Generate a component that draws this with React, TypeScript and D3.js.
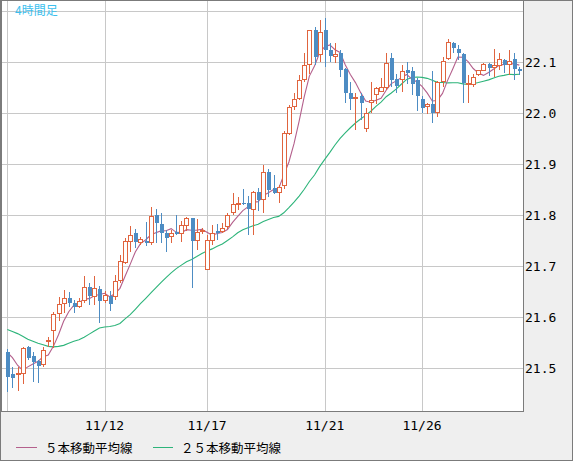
import React, { useEffect } from "react";
import * as d3 from "d3";

// ---- data (4-hour candles) ----
const opens = [
  21.531, 21.488, 21.487, 21.488, 21.542, 21.524, 21.515, 21.506, 21.553, 21.573,
  21.606, 21.626, 21.638, 21.629, 21.620, 21.632, 21.659, 21.640, 21.655, 21.632,
  21.641, 21.640, 21.672, 21.707, 21.748, 21.765, 21.746, 21.750, 21.745, 21.800,
  21.783, 21.766, 21.758, 21.768, 21.764, 21.779, 21.794, 21.750, 21.768, 21.693,
  21.750, 21.770, 21.767, 21.778, 21.804, 21.822, 21.825, 21.824, 21.810, 21.845,
  21.830, 21.884, 21.853, 21.843, 21.857, 21.959, 22.013, 22.029, 22.065, 22.095,
  22.163, 22.114, 22.163, 22.124, 22.110, 22.118, 22.086, 22.039, 22.031, 22.034,
  21.969, 22.021, 22.036, 22.042, 22.049, 22.108, 22.067, 22.065, 22.084, 22.082,
  22.065, 22.029, 22.012, 22.018, 22.001, 22.062, 22.106, 22.137, 22.127, 22.116,
  22.057, 22.056, 22.075, 22.083, 22.097, 22.088, 22.093, 22.104, 22.095, 22.106,
  22.087,
];
const highs = [
  21.538, 21.503, 21.503, 21.542, 21.543, 21.531, 21.516, 21.542, 21.562, 21.611,
  21.639, 21.653, 21.650, 21.634, 21.637, 21.681, 21.667, 21.681, 21.661, 21.651,
  21.651, 21.683, 21.722, 21.756, 21.779, 21.773, 21.758, 21.787, 21.817, 21.812,
  21.804, 21.771, 21.771, 21.801, 21.788, 21.797, 21.795, 21.793, 21.776, 21.762,
  21.781, 21.783, 21.784, 21.804, 21.843, 21.836, 21.852, 21.838, 21.848, 21.853,
  21.899, 21.890, 21.880, 21.859, 21.965, 22.016, 22.039, 22.075, 22.118, 22.163,
  22.169, 22.183, 22.186, 22.137, 22.137, 22.124, 22.088, 22.062, 22.040, 22.039,
  22.010, 22.062, 22.052, 22.069, 22.118, 22.118, 22.078, 22.095, 22.101, 22.091,
  22.069, 22.034, 22.020, 22.082, 22.063, 22.111, 22.146, 22.140, 22.134, 22.118,
  22.075, 22.078, 22.085, 22.098, 22.098, 22.127, 22.118, 22.106, 22.125, 22.118,
  22.091,
];
const lows = [
  21.454, 21.461, 21.456, 21.469, 21.516, 21.474, 21.471, 21.502, 21.541, 21.540,
  21.592, 21.608, 21.621, 21.608, 21.618, 21.629, 21.624, 21.624, 21.589, 21.628,
  21.612, 21.634, 21.667, 21.705, 21.729, 21.735, 21.742, 21.739, 21.742, 21.745,
  21.745, 21.729, 21.745, 21.762, 21.747, 21.769, 21.658, 21.732, 21.763, 21.693,
  21.742, 21.752, 21.765, 21.774, 21.800, 21.810, 21.820, 21.761, 21.761, 21.809,
  21.804, 21.836, 21.841, 21.825, 21.852, 21.957, 22.006, 22.026, 22.062, 22.078,
  22.095, 22.101, 22.091, 22.101, 22.098, 22.072, 22.020, 22.006, 21.967, 21.987,
  21.963, 22.000, 22.019, 22.042, 22.046, 22.052, 22.039, 22.042, 22.057, 22.036,
  22.004, 22.001, 21.999, 21.980, 21.992, 22.052, 22.104, 22.118, 22.104, 22.020,
  22.020, 22.052, 22.073, 22.082, 22.073, 22.072, 22.085, 22.080, 22.075, 22.065,
  22.075,
];
const closes = [
  21.483, 21.480, 21.490, 21.540, 21.521, 21.512, 21.505, 21.535, 21.556, 21.607,
  21.626, 21.637, 21.629, 21.620, 21.632, 21.660, 21.642, 21.657, 21.632, 21.644,
  21.626, 21.672, 21.710, 21.750, 21.761, 21.748, 21.753, 21.746, 21.799, 21.784,
  21.765, 21.755, 21.766, 21.763, 21.781, 21.794, 21.750, 21.767, 21.771, 21.752,
  21.766, 21.766, 21.776, 21.801, 21.822, 21.825, 21.822, 21.812, 21.845, 21.830,
  21.884, 21.850, 21.843, 21.856, 21.961, 22.013, 22.029, 22.065, 22.095, 22.163,
  22.111, 22.160, 22.124, 22.112, 22.116, 22.085, 22.039, 22.029, 22.032, 22.020,
  22.000, 22.027, 22.049, 22.051, 22.099, 22.065, 22.054, 22.082, 22.080, 22.057,
  22.034, 22.011, 22.018, 22.001, 22.062, 22.103, 22.139, 22.129, 22.118, 22.060,
  22.060, 22.072, 22.084, 22.096, 22.088, 22.095, 22.106, 22.095, 22.103, 22.086,
  22.082,
];
// moving-average values at the left edge (their history lies before the window)
const ma5Head = [21.531, 21.521, 21.506, 21.496];
const ma25Head = [
  21.576, 21.572, 21.568, 21.563, 21.557, 21.553, 21.549, 21.546, 21.543, 21.542,
  21.543, 21.545, 21.549, 21.553, 21.556, 21.561, 21.567, 21.573, 21.579, 21.581,
  21.582, 21.584, 21.588, 21.597,
];
const dateTickIndex = [0, 19, 39, 62, 81];
const dateTickLabels = ["", "11/12", "11/17", "11/21", "11/26"];
const priceTicks = [21.5, 21.6, 21.7, 21.8, 21.9, 22.0, 22.1, 22.2];
const priceTickLabels = ["21.5", "21.6", "21.7", "21.8", "21.9", "22.0", "22.1", ""];
const title = "4時間足";
const legendLabels = ["５本移動平均線", "２５本移動平均線"];

const W = 574;
const H = 462;
const UP = "#e0643e";
const DOWN = "#4d8cc3";
const MA5C = "#b4608c";
const MA25C = "#2db47a";
const GRID = "#c8c8c8";
const PANEL = "#efefef";
const BORDER = "#7b7b7b";

function sma(period: number, head: number[]) {
  return closes.map((_, i) =>
    i < period - 1 ? head[i] : (d3.mean(closes.slice(i - period + 1, i + 1)) as number)
  );
}

export default function App() {
  useEffect(() => {
    document.body.style.margin = "0";
  }, []);

  const plotL = 2;
  const plotR = 523;
  const plotT = 1;
  const plotB = 411;

  const x = d3.scaleLinear().domain([0, closes.length - 1]).range([7.3, 519.3]);
  const y = d3.scaleLinear().domain([21.5, 22.2]).range([368.3, 11.3]);

  const ma5 = sma(5, ma5Head);
  const ma25 = sma(25, ma25Head);
  const line = d3
    .line<number>()
    .x((_, i) => x(i))
    .y((d) => y(d));

  const px = (v: number) => Math.round(v);

  return (
    <svg width={W} height={H} style={{ display: "block" }}>
      <rect x={0} y={0} width={573} height={461} fill={PANEL} />
      <rect x={plotL} y={plotT} width={plotR - plotL} height={plotB - plotT} fill="#fff" />
      <defs>
        <clipPath id="plotclip">
          <rect x={plotL} y={plotT} width={plotR - plotL} height={plotB - plotT} />
        </clipPath>
      </defs>
      <g clipPath="url(#plotclip)">
        {priceTicks.map((p) => (
          <line
            key={"h" + p}
            x1={plotL}
            x2={plotR}
            y1={Math.round(y(p)) + 0.5}
            y2={Math.round(y(p)) + 0.5}
            stroke={GRID}
            strokeWidth={1}
          />
        ))}
        {dateTickIndex.map((t) => (
          <line
            key={"v" + t}
            x1={px(x(t)) + 0.5}
            x2={px(x(t)) + 0.5}
            y1={plotT}
            y2={plotB}
            stroke={GRID}
            strokeWidth={1}
          />
        ))}
        <path d={line(ma25) || ""} fill="none" stroke={MA25C} strokeWidth={1.1} />
        <path d={line(ma5) || ""} fill="none" stroke={MA5C} strokeWidth={1.1} />
        {closes.map((c, i) => {
          const o = opens[i];
          const up = c >= o;
          const col = up ? UP : DOWN;
          const cx = px(x(i));
          const yTop = Math.round(y(Math.max(o, c)));
          const yBot = Math.round(y(Math.min(o, c)));
          const hgt = Math.max(1, yBot - yTop);
          return (
            <g key={i}>
              <line
                x1={cx + 0.5}
                x2={cx + 0.5}
                y1={Math.round(y(highs[i]))}
                y2={Math.round(y(lows[i]))}
                stroke={col}
                strokeWidth={1}
              />
              {up ? (
                <rect
                  x={cx - 1.5}
                  y={yTop + 0.5}
                  width={4}
                  height={Math.max(1, hgt - 1)}
                  fill="#fff"
                  stroke={col}
                  strokeWidth={1}
                />
              ) : (
                <rect x={cx - 1} y={yTop} width={4} height={hgt} fill={col} />
              )}
            </g>
          );
        })}
      </g>
      {/* frame */}
      <line x1={plotR + 0.5} x2={plotR + 0.5} y1={0} y2={plotB + 1} stroke={BORDER} />
      <line x1={0} x2={plotR + 1} y1={plotB + 0.5} y2={plotB + 0.5} stroke={BORDER} />
      <rect x={0.5} y={0.5} width={572} height={460} fill="none" stroke={BORDER} />
      <line x1={1.5} x2={1.5} y1={0} y2={plotB} stroke={BORDER} />
      <text x={15} y={15} fill="#3cbfee" fontSize={12} fontFamily="'Noto Sans CJK JP', sans-serif">
        {title}
      </text>
      {priceTicks.map((p, i) => (
        <text
          key={"pl" + p}
          x={525}
          y={y(p) + 4.5}
          fontSize={13}
          fontFamily="'DejaVu Sans Mono', monospace"
          fill="#000"
        >
          {priceTickLabels[i]}
        </text>
      ))}
      {dateTickIndex.map((t, i) => (
        <text
          key={"dl" + t}
          x={x(t)}
          y={430}
          textAnchor="middle"
          fontSize={13}
          fontFamily="'DejaVu Sans Mono', monospace"
          fill="#000"
        >
          {dateTickLabels[i]}
        </text>
      ))}
      <line x1={16} x2={37} y1={447.5} y2={447.5} stroke={MA5C} strokeWidth={1} />
      <text x={45} y={452.5} fontSize={12.5} fontFamily="'Noto Sans CJK JP', sans-serif" fill="#000">
        {legendLabels[0]}
      </text>
      <line x1={153} x2={173} y1={447.5} y2={447.5} stroke={MA25C} strokeWidth={1} />
      <text x={181} y={452.5} fontSize={12.5} fontFamily="'Noto Sans CJK JP', sans-serif" fill="#000">
        {legendLabels[1]}
      </text>
    </svg>
  );
}
